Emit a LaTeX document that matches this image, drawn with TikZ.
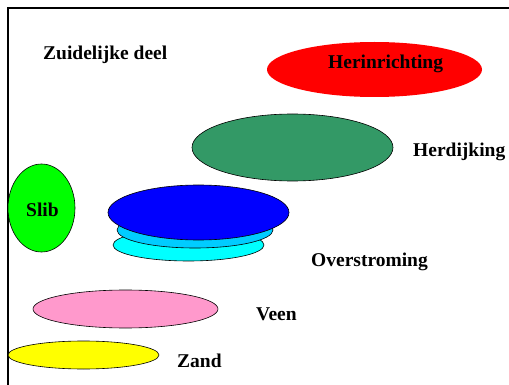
\documentclass[tikz,border=0pt]{standalone}
\usepackage{fontspec}
\setmainfont{Liberation Serif}
\usetikzlibrary{shapes.geometric}
\definecolor{cred}{HTML}{FF0000}
\definecolor{cgreen}{HTML}{339966}
\definecolor{clime}{HTML}{00FF00}
\definecolor{cblue}{HTML}{0000FF}
\definecolor{csky}{HTML}{00CCFF}
\definecolor{ccyan}{HTML}{00FFFF}
\definecolor{cpink}{HTML}{FF99CC}
\definecolor{cyellow}{HTML}{FFFF00}
\begin{document}
\begin{tikzpicture}[x=1pt,y=-1pt,
  blob/.style={ellipse, draw=black, line width=0.6pt, inner sep=0pt},
  lbl/.style={anchor=base west, inner sep=0pt, font=\fontsize{19.5}{20}\selectfont\bfseries}]
\useasboundingbox (0,0) rectangle (509,385);
\coordinate (tl) at (8,8);
\coordinate (tr) at (509,8);
\coordinate (bl) at (8,385);
\draw[line width=1.5pt] (tr) -- (tl) -- (bl);
% ellipses
\node[blob, draw=none, fill=cred, minimum width=215, minimum height=55] (red) at (374.5,69.5) {};
\node[blob, fill=cgreen, minimum width=201, minimum height=67] (green) at (292.5,147.5) {};
\node[blob, fill=clime, minimum width=67, minimum height=88] (slib) at (41.5,208) {};
\node[blob, fill=ccyan, minimum width=151, minimum height=32] (cyan) at (188.5,245) {};
\node[blob, fill=csky, minimum width=156, minimum height=36] (sky) at (195,230) {};
\node[blob, fill=cblue, minimum width=181, minimum height=55] (blue) at (198.5,212.5) {};
\node[blob, fill=cpink, minimum width=185, minimum height=38] (pink) at (125.5,309) {};
\node[blob, fill=cyellow, minimum width=151, minimum height=28] (yellow) at (83.5,355) {};
% labels
\node[lbl] (tz) at (43,60) {Zuidelijke deel};
\node[lbl] (th) at (328,68.5) {Herinrichting};
\node[lbl] (tdijk) at (413,157) {Herdijking};
\node[lbl] (ts) at (26,216) {Slib};
\node[lbl] (to) at (311,266) {Overstroming};
\node[lbl] (tv) at (256,320) {Veen};
\node[lbl] (tzand) at (177,367) {Zand};
\end{tikzpicture}
\end{document}
